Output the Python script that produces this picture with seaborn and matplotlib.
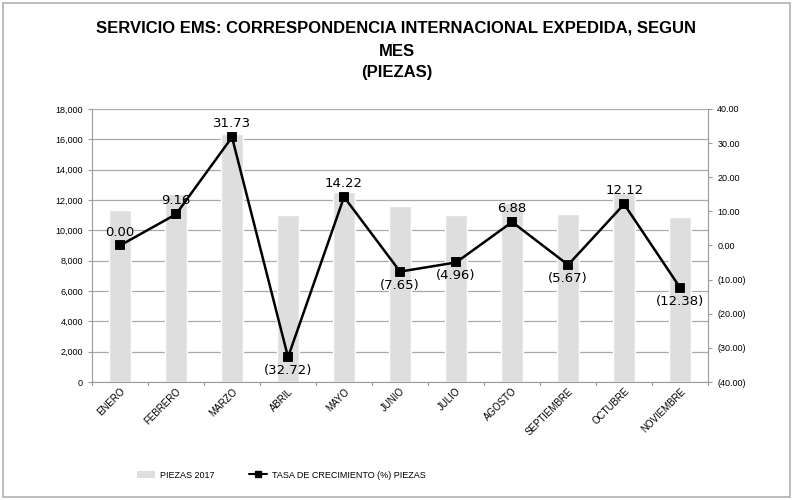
import numpy as np
import pandas as pd
import matplotlib
matplotlib.use('Agg')
import matplotlib.pyplot as plt
import seaborn as sns
from matplotlib.ticker import FuncFormatter, MultipleLocator
from matplotlib.patches import Patch, Rectangle
from matplotlib.lines import Line2D

# ================= datos =================
meses = ['ENERO', 'FEBRERO', 'MARZO', 'ABRIL', 'MAYO', 'JUNIO', 'JULIO',
         'AGOSTO', 'SEPTIEMBRE', 'OCTUBRE', 'NOVIEMBRE']
piezas_2017 = [11350, 12390, 16320, 10980, 12540, 11580, 11010, 11770, 11100, 12440, 10900]
tasa = [0.00, 9.16, 31.73, -32.72, 14.22, -7.65, -4.96, 6.88, -5.67, 12.12, -12.38]

df = pd.DataFrame({'Mes': meses, 'Piezas': piezas_2017, 'Tasa': tasa})

COLOR_BAR = '#dedede'
sns.set_style('white')
plt.rcParams['font.family'] = ['Liberation Sans', 'DejaVu Sans']
plt.rcParams['text.color'] = 'black'
plt.rcParams['xtick.color'] = 'black'
plt.rcParams['ytick.color'] = 'black'

fig = plt.figure(figsize=(7.93, 5.0), dpi=100)
ax = fig.add_axes([0.116, 0.236, 0.777, 0.546])

# barras
sns.barplot(ax=ax, data=df, x='Mes', y='Piezas', color=COLOR_BAR, width=0.4,
            saturation=1, zorder=2)
ax.set_ylim(0, 18000)
ax.yaxis.set_major_locator(MultipleLocator(2000))
ax.yaxis.set_major_formatter(FuncFormatter(lambda v, p: f'{v:,.0f}'))
ax.grid(axis='y', color='#aaaaaa', lw=0.9, zorder=0)
ax.set_axisbelow(True)
ax.set_xlabel('')
ax.set_ylabel('')
for s in ['top', 'right']:
    ax.spines[s].set_visible(False)
ax.spines['left'].set_color('#9a9a9a')
ax.spines['bottom'].set_color('#9a9a9a')
ax.tick_params(axis='y', labelsize=6.5, length=3, color='#9a9a9a', left=True)
ax.tick_params(axis='x', labelsize=7, length=0, pad=3)
plt.setp(ax.get_xticklabels(), rotation=45, ha='right', rotation_mode='anchor')
# marcas entre categorias
for xb in np.arange(-0.5, len(meses), 1.0):
    ax.plot([xb, xb], [0, -0.012], transform=ax.get_xaxis_transform(),
            color='#9a9a9a', lw=0.8, clip_on=False)

# linea de crecimiento
ax2 = ax.twinx()
sns.pointplot(ax=ax2, data=df, x='Mes', y='Tasa', color='black', markers='s',
              markersize=6, linewidth=1.8, zorder=4)
ax2.set_ylim(-40, 40)
ax2.yaxis.set_major_locator(MultipleLocator(10))
ax2.yaxis.set_major_formatter(FuncFormatter(lambda v, p: f'({abs(v):.2f})' if v < 0 else f'{v:.2f}'))
ax2.set_ylabel('')
ax2.set_xlabel('')
for s in ['top', 'left', 'bottom']:
    ax2.spines[s].set_visible(False)
ax2.spines['right'].set_color('#9a9a9a')
ax2.tick_params(axis='y', labelsize=6.5, length=3, color='#9a9a9a', right=True)
ax2.set_xlim(-0.5, len(meses) - 0.5)

# etiquetas de datos
for i, v in enumerate(tasa):
    txt = f'({abs(v):.2f})' if v < 0 else f'{v:.2f}'
    if v < 0:
        ax2.annotate(txt, (i, v), xytext=(0, -5), textcoords='offset points',
                     ha='center', va='top', fontsize=9.5, family=['DejaVu Sans'])
    else:
        ax2.annotate(txt, (i, v), xytext=(0, 5), textcoords='offset points',
                     ha='center', va='bottom', fontsize=9.5, family=['DejaVu Sans'])

# titulo
fig.text(0.5, 0.944, 'SERVICIO EMS: CORRESPONDENCIA INTERNACIONAL EXPEDIDA, SEGUN',
         ha='center', va='center', fontsize=12, fontweight='bold')
fig.text(0.5, 0.896, 'MES', ha='center', va='center', fontsize=12, fontweight='bold')
fig.text(0.5, 0.856, '(PIEZAS)', ha='center', va='center', fontsize=12, fontweight='bold')

# leyenda
handles = [Patch(facecolor=COLOR_BAR, edgecolor='none', label='PIEZAS 2017'),
           Line2D([0], [0], color='black', marker='s', markersize=4, lw=1.5,
                  label='TASA DE CRECIMIENTO (%) PIEZAS')]
fig.legend(handles=handles, loc='center left', bbox_to_anchor=(0.162, 0.05), ncol=2,
           frameon=False, fontsize=6.5, columnspacing=3.8, handlelength=2.0, handletextpad=0.6)

# marco
fig.patches.append(Rectangle((0.004, 0.006), 0.992, 0.988, transform=fig.transFigure,
                             fill=False, edgecolor='#b0b0b0', lw=1.2))

fig.savefig('out.png', dpi=100)
